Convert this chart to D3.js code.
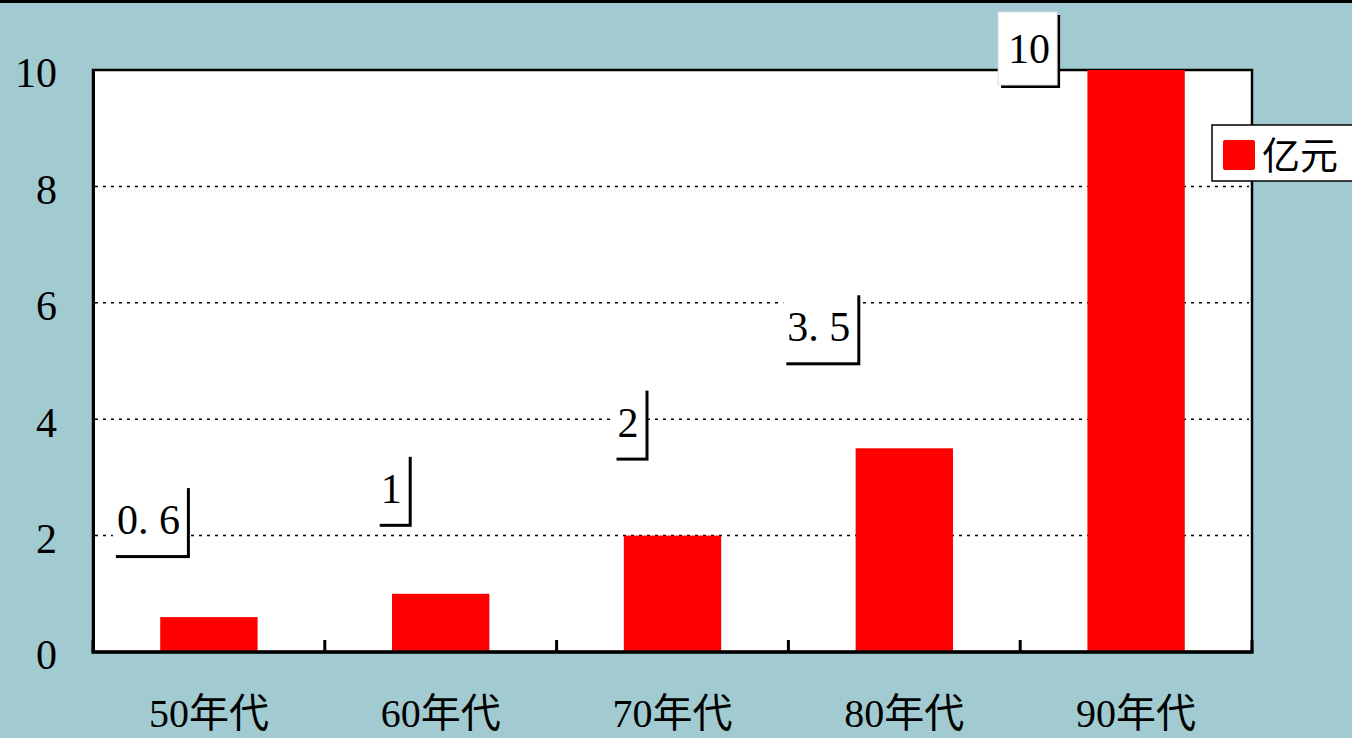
<!doctype html>
<meta charset='utf-8'>
<title>bars</title>
<style type="text/css">
	html, body { margin:0; padding:0; background:#a1cbd1; overflow:hidden; }
	svg { display:block; }
	text { fill:#000; }
</style>
<div id='container'></div>
<script src="https://cdnjs.cloudflare.com/ajax/libs/d3/7.8.5/d3.min.js" charset="utf-8"></script>
<script>

	// data
	var decades = ['50年代','60年代','70年代','80年代','90年代']
	var amounts = [0.6, 1, 2, 3.5, 10]
	var yTicks = [0, 2, 4, 6, 8, 10]
	var gridTicks = [2, 4, 6, 8]
	var seriesName = '亿元'
	// label nudges from bar top (layout only)
	var labelDx = [-22, -32, -27, -47, -79]
	var labelDy = [-62, -70, -78, -86, 15]

	var SERIF = "'Liberation Serif','DejaVu Serif','Noto Sans CJK SC',serif"
	var W = 1352, H = 738
	var plot = {left:93, top:70, right:1252, bottom:652}

	var svg = d3.select('#container').append('svg')
		.attr('width', W).attr('height', H)

	svg.append('rect').attr('width', W).attr('height', H).attr('fill', '#a1cbd1')
	svg.append('rect').attr('width', W).attr('height', 3).attr('fill', '#000')

	var x = d3.scaleBand().domain(decades).range([plot.left, plot.right]).padding(0)
	var y = d3.scaleLinear().domain([0, 10]).range([plot.bottom, plot.top])
	var barW = x.bandwidth() * 0.42

	// plot area
	svg.append('rect')
		.attr('x', plot.left).attr('y', plot.top)
		.attr('width', plot.right - plot.left).attr('height', plot.bottom - plot.top)
		.attr('fill', '#fff').attr('stroke', '#000').attr('stroke-width', 2.5)

	// grid
	svg.append('g').selectAll('line').data(gridTicks).join('line')
		.attr('x1', plot.left + 2).attr('x2', plot.right - 3)
		.attr('y1', function(d){ return y(d) }).attr('y2', function(d){ return y(d) })
		.attr('stroke', '#000').attr('stroke-width', 1.5)
		.attr('stroke-dasharray', '3,5')

	// bars
	svg.append('g').selectAll('rect').data(amounts).join('rect')
		.attr('x', function(d, i){ return x(decades[i]) + (x.bandwidth() - barW) / 2 })
		.attr('y', function(d){ return y(d) })
		.attr('width', barW)
		.attr('height', function(d){ return y(0) - y(d) })
		.attr('fill', '#ff0000')

	// y axis
	var yAxis = svg.append('g')
		.attr('transform', 'translate(' + plot.left + ',0)')
		.call(d3.axisLeft(y).tickValues(yTicks).tickSize(0).tickPadding(36).tickFormat(d3.format('d')))
	yAxis.attr('font-family', null).attr('font-size', null)
	yAxis.select('.domain').attr('stroke', '#000').attr('stroke-width', 3)
	yAxis.selectAll('text')
		.attr('font-family', SERIF)
		.attr('font-size', 42)
		.attr('dy', '0.4em')

	// x axis: line, tick marks between bands, labels
	var bounds = decades.map(function(d){ return x(d) }).concat([plot.right])
	svg.append('line')
		.attr('x1', plot.left - 1.5).attr('x2', plot.right + 1.5)
		.attr('y1', plot.bottom).attr('y2', plot.bottom)
		.attr('stroke', '#000').attr('stroke-width', 3.5)
	svg.append('g').selectAll('line').data(bounds).join('line')
		.attr('x1', function(d){ return d }).attr('x2', function(d){ return d })
		.attr('y1', plot.bottom).attr('y2', plot.bottom - 12)
		.attr('stroke', '#000').attr('stroke-width', 3)
	svg.append('g').selectAll('text').data(decades).join('text')
		.attr('x', function(d){ return x(d) + x.bandwidth() / 2 })
		.attr('y', 727)
		.attr('text-anchor', 'middle')
		.attr('font-family', SERIF)
		.attr('font-size', 40)
		.text(function(d){ return d })

	// data labels with shadowed boxes
	var fmt = function(v){ return String(v).replace('.', '. ') }
	var labels = svg.append('g')
	amounts.forEach(function(v, i){
		var g = labels.append('g')
		var cx = x(decades[i]) + x.bandwidth() / 2
		var right = cx + labelDx[i]
		var bottom = v === 10 ? 85 : y(v) + labelDy[i]
		var t = g.append('text')
			.attr('font-family', SERIF)
			.attr('font-size', 42)
			.attr('text-anchor', 'end')
			.text(fmt(v))
		var tw = t.node().getComputedTextLength()
		var padR = 7, padL = v === 10 ? 10 : 4
		var boxW = tw + padL + padR, boxH = v === 10 ? 73 : 70
		var bx = right - boxW
		var by = bottom - boxH
		g.insert('rect', 'text')
			.attr('x', bx + 3).attr('y', by + 3)
			.attr('width', boxW).attr('height', boxH)
			.attr('fill', '#000')
		g.insert('rect', 'text')
			.attr('x', bx).attr('y', by)
			.attr('width', boxW).attr('height', boxH)
			.attr('fill', '#fff')
			.attr('stroke', v === 10 ? '#ddd' : 'none')
			.attr('stroke-width', 1)
		t.attr('x', right - padR).attr('y', by + boxH / 2 + 14)
	})

	// legend
	var lg = svg.append('g').attr('transform', 'translate(1212,125)')
	lg.append('rect').attr('width', 150).attr('height', 56)
		.attr('fill', '#fff').attr('stroke', '#000').attr('stroke-width', 1.5)
	lg.append('rect').attr('x', 11).attr('y', 15).attr('width', 32).attr('height', 30)
		.attr('rx', 2).attr('fill', '#ff0000')
	lg.append('text').attr('x', 50).attr('y', 44)
		.attr('font-family', "'Noto Sans CJK SC',sans-serif")
		.attr('font-size', 38)
		.text(seriesName)

</script>
